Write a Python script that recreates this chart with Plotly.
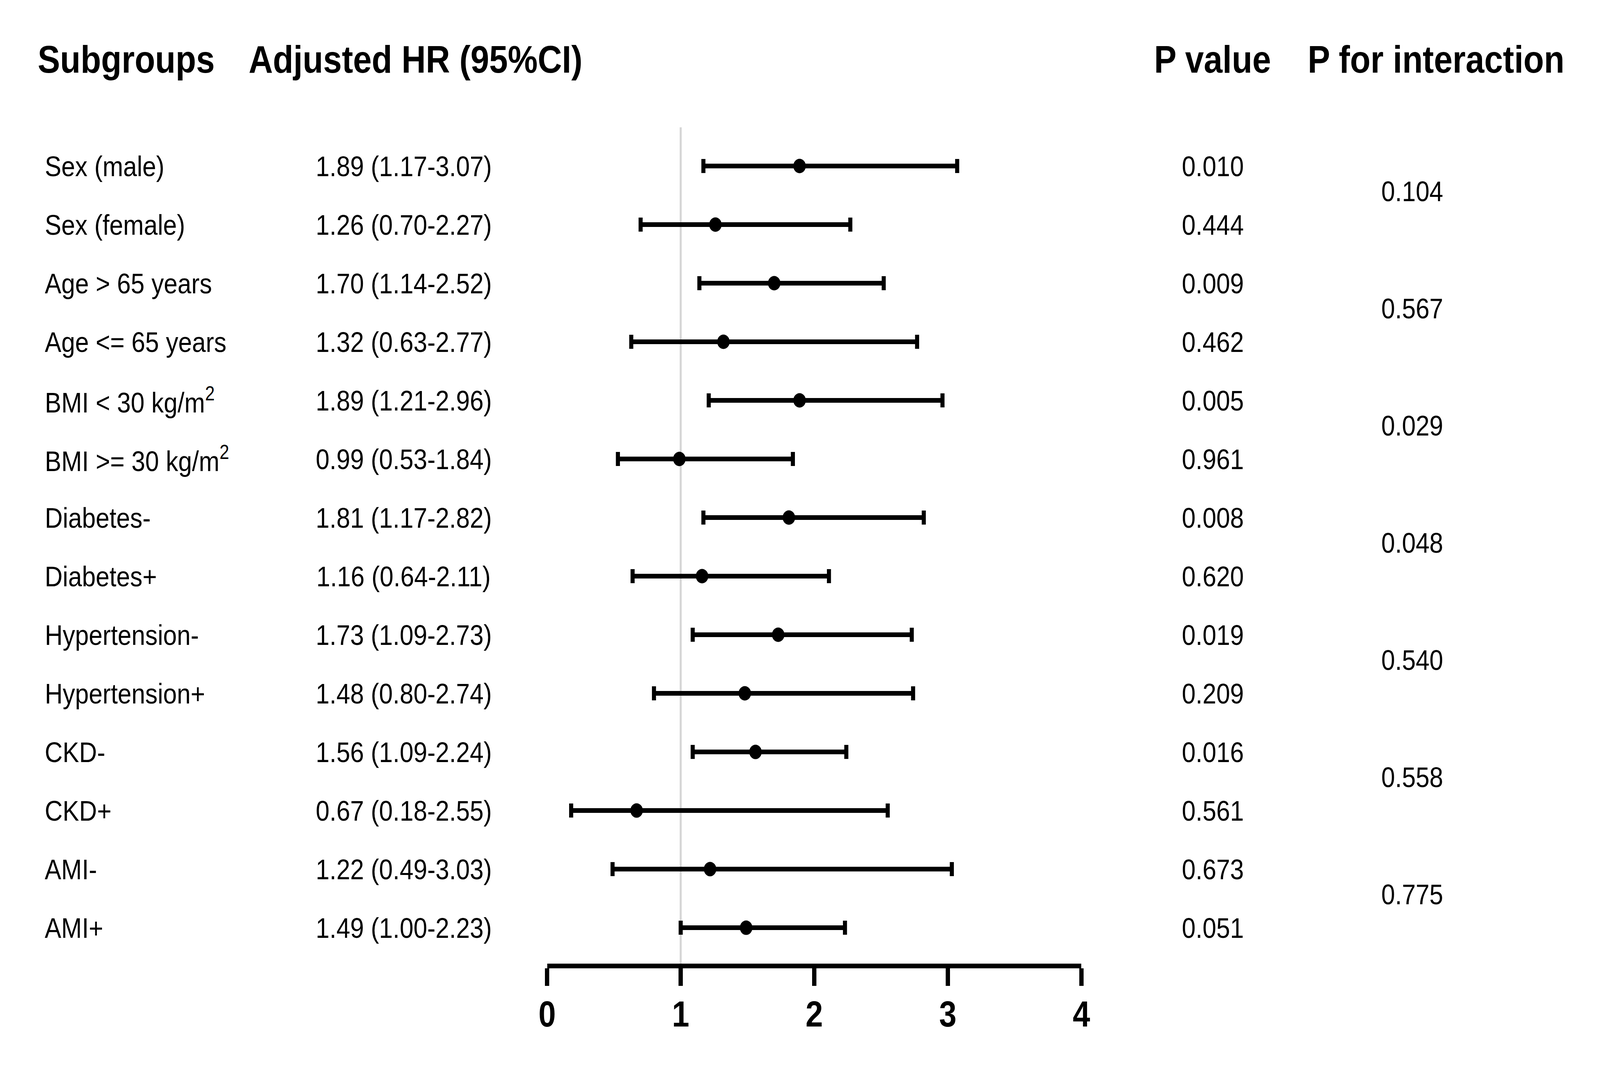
import plotly.graph_objects as go

# subgroup rows, top to bottom
subgroups = [
    "Sex (male)", "Sex (female)", "Age &gt; 65 years", "Age &lt;= 65 years",
    "BMI &lt; 30 kg/m<sup>2</sup>", "BMI &gt;= 30 kg/m<sup>2</sup>",
    "Diabetes-", "Diabetes+", "Hypertension-", "Hypertension+",
    "CKD-", "CKD+", "AMI-", "AMI+",
]
hr = [1.89, 1.26, 1.70, 1.32, 1.89, 0.99, 1.81, 1.16, 1.73, 1.48, 1.56, 0.67, 1.22, 1.49]
ci_low = [1.17, 0.70, 1.14, 0.63, 1.21, 0.53, 1.17, 0.64, 1.09, 0.80, 1.09, 0.18, 0.49, 1.00]
ci_high = [3.07, 2.27, 2.52, 2.77, 2.96, 1.84, 2.82, 2.11, 2.73, 2.74, 2.24, 2.55, 3.03, 2.23]
p_values = ["0.010", "0.444", "0.009", "0.462", "0.005", "0.961", "0.008",
            "0.620", "0.019", "0.209", "0.016", "0.561", "0.673", "0.051"]
p_interaction = ["0.104", "0.567", "0.029", "0.048", "0.540", "0.558", "0.775"]
x_ticks = [0, 1, 2, 3, 4]

W, H = 4718, 2747
FONT = "Liberation Sans, Arial, sans-serif"
rows = list(range(len(subgroups)))

fig = go.Figure()

# reference line at HR = 1
fig.add_shape(type="line", xref="x", yref="y domain", x0=1, x1=1, y0=0, y1=1,
              line=dict(color="#d6d6d6", width=6), layer="below")

fig.add_trace(go.Scatter(
    x=hr, y=rows, mode="markers",
    marker=dict(size=37, color="black"),
    error_x=dict(type="data", symmetric=False,
                 array=[h - m for h, m in zip(ci_high, hr)],
                 arrayminus=[m - l for m, l in zip(hr, ci_low)],
                 color="black", thickness=12, width=18),
    showlegend=False, hoverinfo="skip",
))

annotations = []
# column headers
headers = [("Subgroups", 84), ("Adjusted HR (95%CI)", 713),
           ("P value", 3413), ("P for interaction", 3871)]
for txt, px in headers:
    annotations.append(dict(text=txt, x=px / W, y=1 - 152 / H, xref="paper", yref="paper",
                            xanchor="left", yanchor="middle", showarrow=False,
                            font=dict(family=FONT, size=99, color="black", weight="bold")))

body = dict(family=FONT, size=73, color="black")
for i in rows:
    annotations.append(dict(text=subgroups[i], x=105 / W, y=i, xref="paper", yref="y",
                            xanchor="left", yanchor="middle", showarrow=False, font=body))
    annotations.append(dict(text=f"{hr[i]:.2f} ({ci_low[i]:.2f}-{ci_high[i]:.2f})",
                            x=1177 / W, y=i, xref="paper", yref="y",
                            xanchor="center", yanchor="middle", showarrow=False, font=body))
    annotations.append(dict(text=p_values[i], x=3590 / W, y=i, xref="paper", yref="y",
                            xanchor="center", yanchor="middle", showarrow=False, font=body))
for k, pv in enumerate(p_interaction):
    annotations.append(dict(text=pv, x=4185 / W, y=2 * k + 0.43, xref="paper", yref="y",
                            xanchor="center", yanchor="middle", showarrow=False, font=body))

fig.update_layout(
    width=W, height=H,
    margin=dict(l=0, r=0, t=0, b=0),
    paper_bgcolor="white", plot_bgcolor="white",
    annotations=annotations,
    xaxis=dict(domain=[1605 / W, 3198 / W], range=[0, 4], tickvals=x_ticks,
               showgrid=False, zeroline=False, showline=True, linecolor="black",
               linewidth=12, ticks="outside", ticklen=45, tickwidth=12, tickcolor="black",
               ticklabelstandoff=-6,
               tickfont=dict(family=FONT, size=92, color="black", weight="bold")),
    yaxis=dict(domain=[1 - 2467 / H, 1 - 326 / H], range=[13.613, -0.66],
               visible=False, showgrid=False, zeroline=False),
)

# the browser window can be narrower than the figure, so fit the plot to it
fit = """
document.body.style.margin = '0';
document.body.style.overflow = 'hidden';
var gd = document.getElementById('{plot_id}');
gd.style.transformOrigin = '0 0';
gd.style.transform = 'scale(' + (window.innerWidth / %d) + ',' + (window.innerHeight / %d) + ')';
""" % (W, H)
fig.write_html("out.html", post_script=fit, config={"displayModeBar": False})
